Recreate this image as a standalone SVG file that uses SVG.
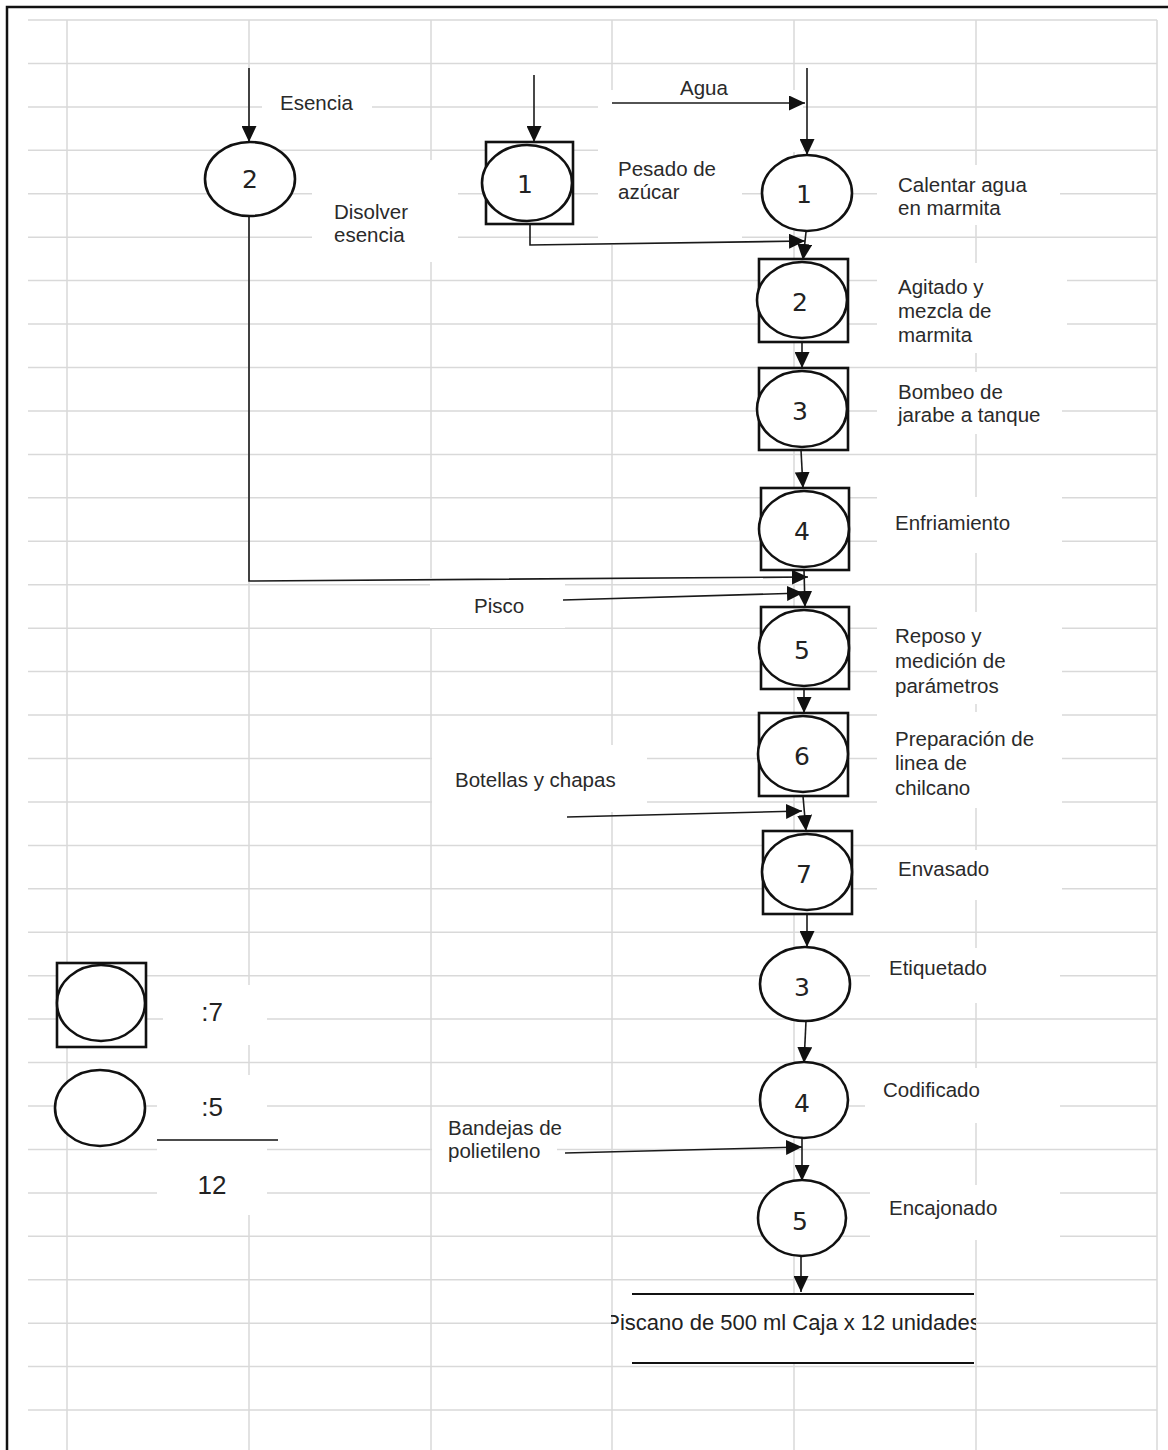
<svg xmlns="http://www.w3.org/2000/svg" width="1168" height="1450" viewBox="0 0 1168 1450">
  <defs>
    <style>
      .grid line { stroke: #d9d9d9; stroke-width: 1.5; }
      .bg { fill: #ffffff; stroke: none; }
      .conn { fill: none; stroke: #1a1a1a; stroke-width: 1.6; }
      .shape { fill: #ffffff; stroke: #111111; stroke-width: 2.6; }
      .num { font-family: "DejaVu Sans", "Liberation Sans", sans-serif; font-size: 25px; fill: #222222; text-anchor: middle; }
      .lbl { font-family: "Liberation Sans", Arial, sans-serif; font-size: 20.5px; fill: #2a2a2a; }
      .leg { font-family: "Liberation Sans", Arial, sans-serif; font-size: 26px; fill: #222222; text-anchor: middle; }
    </style>
    <marker id="arrow" markerUnits="userSpaceOnUse" markerWidth="17" markerHeight="15" refX="16" refY="7.5" orient="auto">
      <path d="M0,0 L16,7.5 L0,15 z" fill="#111111"/>
    </marker>
    <clipPath id="clipOut">
      <rect x="611" y="1296" width="365" height="66"/>
    </clipPath>
  </defs>

  <rect x="0" y="0" width="1168" height="1450" fill="#ffffff"/>

  <g id="grid" class="grid">
    <line x1="67" y1="20" x2="67" y2="1450"/>
    <line x1="249" y1="20" x2="249" y2="1450"/>
    <line x1="431" y1="20" x2="431" y2="1450"/>
    <line x1="612" y1="20" x2="612" y2="1450"/>
    <line x1="794" y1="20" x2="794" y2="1450"/>
    <line x1="976" y1="20" x2="976" y2="1450"/>
    <line x1="1157" y1="20" x2="1157" y2="1450"/>
    <line x1="28" y1="20" x2="1157" y2="20"/>
    <line x1="28" y1="63.4" x2="1157" y2="63.4"/>
    <line x1="28" y1="106.9" x2="1157" y2="106.9"/>
    <line x1="28" y1="150.3" x2="1157" y2="150.3"/>
    <line x1="28" y1="193.8" x2="1157" y2="193.8"/>
    <line x1="28" y1="237.2" x2="1157" y2="237.2"/>
    <line x1="28" y1="280.6" x2="1157" y2="280.6"/>
    <line x1="28" y1="324.1" x2="1157" y2="324.1"/>
    <line x1="28" y1="367.5" x2="1157" y2="367.5"/>
    <line x1="28" y1="411" x2="1157" y2="411"/>
    <line x1="28" y1="454.4" x2="1157" y2="454.4"/>
    <line x1="28" y1="497.8" x2="1157" y2="497.8"/>
    <line x1="28" y1="541.3" x2="1157" y2="541.3"/>
    <line x1="28" y1="584.7" x2="1157" y2="584.7"/>
    <line x1="28" y1="628.2" x2="1157" y2="628.2"/>
    <line x1="28" y1="671.6" x2="1157" y2="671.6"/>
    <line x1="28" y1="715" x2="1157" y2="715"/>
    <line x1="28" y1="758.5" x2="1157" y2="758.5"/>
    <line x1="28" y1="801.9" x2="1157" y2="801.9"/>
    <line x1="28" y1="845.4" x2="1157" y2="845.4"/>
    <line x1="28" y1="888.8" x2="1157" y2="888.8"/>
    <line x1="28" y1="932.2" x2="1157" y2="932.2"/>
    <line x1="28" y1="975.7" x2="1157" y2="975.7"/>
    <line x1="28" y1="1019.1" x2="1157" y2="1019.1"/>
    <line x1="28" y1="1062.6" x2="1157" y2="1062.6"/>
    <line x1="28" y1="1106" x2="1157" y2="1106"/>
    <line x1="28" y1="1149.4" x2="1157" y2="1149.4"/>
    <line x1="28" y1="1192.9" x2="1157" y2="1192.9"/>
    <line x1="28" y1="1236.3" x2="1157" y2="1236.3"/>
    <line x1="28" y1="1279.8" x2="1157" y2="1279.8"/>
    <line x1="28" y1="1323.2" x2="1157" y2="1323.2"/>
    <line x1="28" y1="1366.6" x2="1157" y2="1366.6"/>
    <line x1="28" y1="1410.1" x2="1157" y2="1410.1"/>
  </g>

  <g id="label-backgrounds">
    <rect class="bg" x="262" y="82" width="110" height="40"/>
    <rect class="bg" x="312" y="160" width="146" height="102"/>
    <rect class="bg" x="598" y="90" width="205" height="62"/>
    <rect class="bg" x="598" y="150" width="144" height="95"/>
    <rect class="bg" x="877" y="165" width="183" height="60"/>
    <rect class="bg" x="877" y="263" width="190" height="90"/>
    <rect class="bg" x="877" y="372" width="185" height="62"/>
    <rect class="bg" x="877" y="497" width="185" height="56"/>
    <rect class="bg" x="877" y="612" width="185" height="92"/>
    <rect class="bg" x="877" y="712" width="185" height="96"/>
    <rect class="bg" x="877" y="850" width="185" height="50"/>
    <rect class="bg" x="870" y="948" width="190" height="55"/>
    <rect class="bg" x="865" y="1068" width="195" height="55"/>
    <rect class="bg" x="870" y="1185" width="190" height="55"/>
    <rect class="bg" x="430" y="578" width="135" height="50"/>
    <rect class="bg" x="432" y="745" width="215" height="67"/>
    <rect class="bg" x="432" y="1108" width="125" height="62"/>
    <rect class="bg" x="163" y="985" width="104" height="60"/>
    <rect class="bg" x="157" y="1075" width="110" height="140"/>
    <rect class="bg" x="613" y="1294" width="362" height="69"/>
  </g>

  <path id="frame" d="M7,1450 V7 H1168" fill="none" stroke="#111111" stroke-width="2.5"/>

  <g id="connectors" class="conn">
    <line x1="249" y1="68" x2="249" y2="142" marker-end="url(#arrow)"/>
    <polyline points="249,216 249,581 808,577" marker-end="url(#arrow)"/>
    <line x1="534" y1="75" x2="534" y2="142" marker-end="url(#arrow)"/>
    <polyline points="530,224 530,245 805,241" marker-end="url(#arrow)"/>
    <line x1="612" y1="103" x2="805" y2="103" marker-end="url(#arrow)"/>
    <line x1="807" y1="68" x2="807" y2="155" marker-end="url(#arrow)"/>
    <line x1="806" y1="232" x2="803" y2="260" marker-end="url(#arrow)"/>
    <line x1="802" y1="342" x2="802" y2="368" marker-end="url(#arrow)"/>
    <line x1="801" y1="450" x2="803" y2="488" marker-end="url(#arrow)"/>
    <line x1="804" y1="570" x2="805" y2="607" marker-end="url(#arrow)"/>
    <line x1="563" y1="600" x2="803" y2="593" marker-end="url(#arrow)"/>
    <line x1="804" y1="689" x2="804" y2="713" marker-end="url(#arrow)"/>
    <line x1="803" y1="796" x2="806" y2="831" marker-end="url(#arrow)"/>
    <line x1="567" y1="817" x2="802" y2="811" marker-end="url(#arrow)"/>
    <line x1="807" y1="914" x2="807" y2="947" marker-end="url(#arrow)"/>
    <line x1="806" y1="1021" x2="804" y2="1063" marker-end="url(#arrow)"/>
    <line x1="802" y1="1138" x2="802" y2="1181" marker-end="url(#arrow)"/>
    <line x1="565" y1="1153" x2="802" y2="1147" marker-end="url(#arrow)"/>
    <line x1="801" y1="1256" x2="801" y2="1292" marker-end="url(#arrow)"/>
  </g>

  <g id="node-disolver-esencia">
    <ellipse class="shape" cx="250" cy="179" rx="45" ry="37"/>
    <text class="num" x="250" y="188">2</text>
    <text class="lbl" x="280" y="110">Esencia</text>
    <text class="lbl" x="334" y="219">Disolver</text>
    <text class="lbl" x="334" y="242">esencia</text>
  </g>

  <g id="node-pesado">
    <rect class="shape" x="486" y="142" width="87" height="82"/>
    <ellipse class="shape" cx="527" cy="183" rx="45" ry="38"/>
    <text class="num" x="525" y="193">1</text>
    <text class="lbl" x="618" y="176">Pesado de</text>
    <text class="lbl" x="618" y="199">azúcar</text>
  </g>

  <g id="label-agua">
    <text class="lbl" x="680" y="95">Agua</text>
  </g>

  <g id="node-calentar">
    <ellipse class="shape" cx="807" cy="193" rx="45" ry="38"/>
    <text class="num" x="804" y="203">1</text>
    <text class="lbl" x="898" y="192">Calentar agua</text>
    <text class="lbl" x="898" y="215">en marmita</text>
  </g>

  <g id="node-agitado">
    <rect class="shape" x="759" y="259" width="89" height="83"/>
    <ellipse class="shape" cx="802" cy="300" rx="45" ry="38"/>
    <text class="num" x="800" y="311">2</text>
    <text class="lbl" x="898" y="294">Agitado y</text>
    <text class="lbl" x="898" y="318">mezcla de</text>
    <text class="lbl" x="898" y="342">marmita</text>
  </g>

  <g id="node-bombeo">
    <rect class="shape" x="759" y="368" width="89" height="82"/>
    <ellipse class="shape" cx="802" cy="409" rx="45" ry="38"/>
    <text class="num" x="800" y="420">3</text>
    <text class="lbl" x="898" y="399">Bombeo de</text>
    <text class="lbl" x="898" y="422">jarabe a tanque</text>
  </g>

  <g id="node-enfriamiento">
    <rect class="shape" x="761" y="488" width="88" height="82"/>
    <ellipse class="shape" cx="804" cy="529" rx="45" ry="38"/>
    <text class="num" x="802" y="540">4</text>
    <text class="lbl" x="895" y="530">Enfriamiento</text>
  </g>

  <g id="label-pisco">
    <text class="lbl" x="474" y="613">Pisco</text>
  </g>

  <g id="node-reposo">
    <rect class="shape" x="761" y="607" width="88" height="82"/>
    <ellipse class="shape" cx="804" cy="648" rx="45" ry="38"/>
    <text class="num" x="802" y="659">5</text>
    <text class="lbl" x="895" y="643">Reposo y</text>
    <text class="lbl" x="895" y="668">medición de</text>
    <text class="lbl" x="895" y="693">parámetros</text>
  </g>

  <g id="node-preparacion">
    <rect class="shape" x="759" y="713" width="89" height="83"/>
    <ellipse class="shape" cx="803" cy="754" rx="45" ry="38"/>
    <text class="num" x="802" y="765">6</text>
    <text class="lbl" x="895" y="746">Preparación de</text>
    <text class="lbl" x="895" y="770">linea de</text>
    <text class="lbl" x="895" y="795">chilcano</text>
  </g>

  <g id="label-botellas">
    <text class="lbl" x="455" y="787">Botellas y chapas</text>
  </g>

  <g id="node-envasado">
    <rect class="shape" x="763" y="831" width="89" height="83"/>
    <ellipse class="shape" cx="807" cy="872" rx="45" ry="38"/>
    <text class="num" x="804" y="883">7</text>
    <text class="lbl" x="898" y="876">Envasado</text>
  </g>

  <g id="node-etiquetado">
    <ellipse class="shape" cx="805" cy="984" rx="45" ry="37"/>
    <text class="num" x="802" y="996">3</text>
    <text class="lbl" x="889" y="975">Etiquetado</text>
  </g>

  <g id="node-codificado">
    <ellipse class="shape" cx="804" cy="1100" rx="44" ry="38"/>
    <text class="num" x="802" y="1112">4</text>
    <text class="lbl" x="883" y="1097">Codificado</text>
  </g>

  <g id="label-bandejas">
    <text class="lbl" x="448" y="1135">Bandejas de</text>
    <text class="lbl" x="448" y="1158">polietileno</text>
  </g>

  <g id="node-encajonado">
    <ellipse class="shape" cx="802" cy="1218" rx="44" ry="38"/>
    <text class="num" x="800" y="1230">5</text>
    <text class="lbl" x="889" y="1215">Encajonado</text>
  </g>

  <g id="node-producto">
    <line x1="632" y1="1294" x2="974" y2="1294" stroke="#111111" stroke-width="1.8"/>
    <line x1="632" y1="1363" x2="974" y2="1363" stroke="#111111" stroke-width="1.8"/>
    <text x="793" y="1330" clip-path="url(#clipOut)" font-family="Liberation Sans, Arial, sans-serif" font-size="22" fill="#222222" text-anchor="middle">Piscano de 500 ml Caja x 12 unidades</text>
  </g>

  <g id="legend">
    <rect class="shape" x="57" y="963" width="89" height="84"/>
    <ellipse class="shape" cx="101" cy="1003" rx="44" ry="38"/>
    <ellipse class="shape" cx="100" cy="1108" rx="45" ry="38"/>
    <text class="leg" x="212" y="1021">:7</text>
    <text class="leg" x="212" y="1116">:5</text>
    <line x1="157" y1="1140" x2="278" y2="1140" stroke="#111111" stroke-width="1.6"/>
    <text class="leg" x="212" y="1194">12</text>
  </g>
</svg>
